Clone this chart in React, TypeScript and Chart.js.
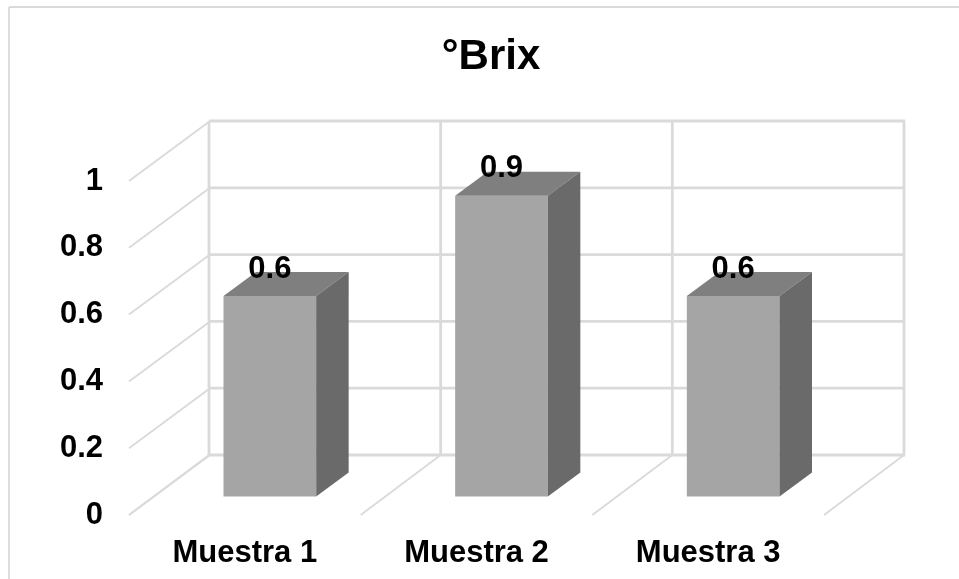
import React, { useEffect, useRef } from "react";
import { Chart, registerables } from "chart.js";

Chart.register(...registerables);

const categories = ["Muestra 1", "Muestra 2", "Muestra 3"];
const brixValues = [0.6, 0.9, 0.6];
const valueLabels = ["0.6", "0.9", "0.6"];
const chartTitle = "°Brix";

const FONT = "'Liberation Sans', Arial, sans-serif";
const GRID = "#dadada";

// Pseudo-3D projection: offsets from the front plane of the box.
const WALL_DX = 80;
const WALL_DY = -60;
const BAR_PLANE_DX = 25;
const BAR_PLANE_DY = -18.6;
const BAR_DEPTH_DX = 32.5;
const BAR_DEPTH_DY = -24;

const poly = (ctx: CanvasRenderingContext2D, pts: number[][], fill: string) => {
  ctx.beginPath();
  pts.forEach(([x, y], i) => (i ? ctx.lineTo(x, y) : ctx.moveTo(x, y)));
  ctx.closePath();
  ctx.fillStyle = fill;
  ctx.fill();
};

const seg = (
  ctx: CanvasRenderingContext2D,
  x1: number,
  y1: number,
  x2: number,
  y2: number,
  width: number
) => {
  ctx.beginPath();
  ctx.moveTo(x1, y1);
  ctx.lineTo(x2, y2);
  ctx.lineWidth = width;
  ctx.strokeStyle = GRID;
  ctx.stroke();
};

const boxPlugin = {
  id: "box3d",
  beforeDatasetsDraw(chart: any) {
    const { ctx, chartArea: a, scales } = chart;
    ctx.save();
    // outer frame of the chart, open on the right and at the bottom
    seg(ctx, 9, 7, chart.width, 7, 1.8);
    seg(ctx, 9, 7, 9, chart.height, 1.8);

    const yTicks = scales.y.ticks;
    yTicks.forEach((t: any) => {
      const y = scales.y.getPixelForValue(t.value);
      seg(ctx, a.left, y, a.left + WALL_DX + 1, y + WALL_DY, 1.9);
      seg(ctx, a.left + WALL_DX, y + WALL_DY, a.right + WALL_DX + 1, y + WALL_DY, 2.8);
    });

    const step = (a.right - a.left) / categories.length;
    for (let i = 0; i <= categories.length; i++) {
      const x = a.left + step * i;
      seg(ctx, x, a.bottom, x + WALL_DX, a.bottom + WALL_DY, 1.9);
      seg(ctx, x + WALL_DX, a.top + WALL_DY, x + WALL_DX, a.bottom + WALL_DY, 2.8);
    }
    ctx.restore();
  },
  beforeDatasetDraw(chart: any) {
    chart.ctx.save();
    chart.ctx.translate(BAR_PLANE_DX, BAR_PLANE_DY);
  },
  afterDatasetDraw(chart: any, args: any) {
    const { ctx } = chart;
    chart.getDatasetMeta(args.index).data.forEach((bar: any) => {
      const { x, y, base, width } = bar.getProps(["x", "y", "base", "width"], true);
      const l = x - width / 2;
      const r = x + width / 2;
      poly(
        ctx,
        [
          [l, y],
          [r, y],
          [r + BAR_DEPTH_DX, y + BAR_DEPTH_DY],
          [l + BAR_DEPTH_DX, y + BAR_DEPTH_DY],
        ],
        "#7f7f7f"
      );
      poly(
        ctx,
        [
          [r, y],
          [r + BAR_DEPTH_DX, y + BAR_DEPTH_DY],
          [r + BAR_DEPTH_DX, base + BAR_DEPTH_DY],
          [r, base],
        ],
        "#6a6a6a"
      );
    });
    ctx.restore();
  },
  afterDatasetsDraw(chart: any) {
    const { ctx } = chart;
    ctx.save();
    ctx.fillStyle = "#000";
    ctx.textAlign = "center";
    ctx.textBaseline = "middle";
    ctx.font = `bold 42px ${FONT}`;
    ctx.fillText(chartTitle, 491, 57);
    ctx.font = `bold 31px ${FONT}`;
    chart.getDatasetMeta(0).data.forEach((bar: any, i: number) => {
      ctx.fillText(valueLabels[i], bar.x + BAR_PLANE_DX, bar.y + BAR_PLANE_DY - 27);
    });
    ctx.restore();
  },
};

export default function App() {
  const ref = useRef<HTMLCanvasElement>(null);
  useEffect(() => {
    const chart = new Chart(ref.current!, {
      type: "bar",
      data: {
        labels: categories,
        datasets: [
          {
            data: brixValues,
            backgroundColor: "#a5a5a5",
            borderWidth: 0,
            categoryPercentage: 1,
            barPercentage: 0.4,
            clip: false as any,
          },
        ],
      },
      options: {
        animation: false,
        responsive: false,
        layout: { padding: { left: 0, right: 135, top: 181, bottom: 0 } },
        plugins: {
          legend: { display: false },
          tooltip: { enabled: false },
          title: { display: false },
        },
        scales: {
          x: {
            grid: { display: false, drawTicks: false },
            border: { display: false },
            ticks: {
              color: "#000",
              padding: 20,
              maxRotation: 0,
              font: { family: FONT, size: 31, weight: "bold" },
            },
            afterFit: (s: any) => {
              s.height = 64;
            },
          },
          y: {
            min: 0,
            max: 1,
            grid: { display: false, drawTicks: false },
            border: { display: false },
            ticks: {
              stepSize: 0.2,
              color: "#000",
              padding: 26,
              font: { family: FONT, size: 31, weight: "bold" },
              callback: (v: any) => String(Number(Number(v).toFixed(1))),
            },
            afterFit: (s: any) => {
              s.width = 129;
            },
          },
        },
      },
      plugins: [boxPlugin],
    } as any);
    return () => chart.destroy();
  }, []);
  return (
    <div style={{ position: "absolute", left: 0, top: 0, width: 959, height: 579, overflow: "hidden", background: "#fff" }}>
      <canvas ref={ref} width={959} height={579} style={{ display: "block" }} />
    </div>
  );
}
